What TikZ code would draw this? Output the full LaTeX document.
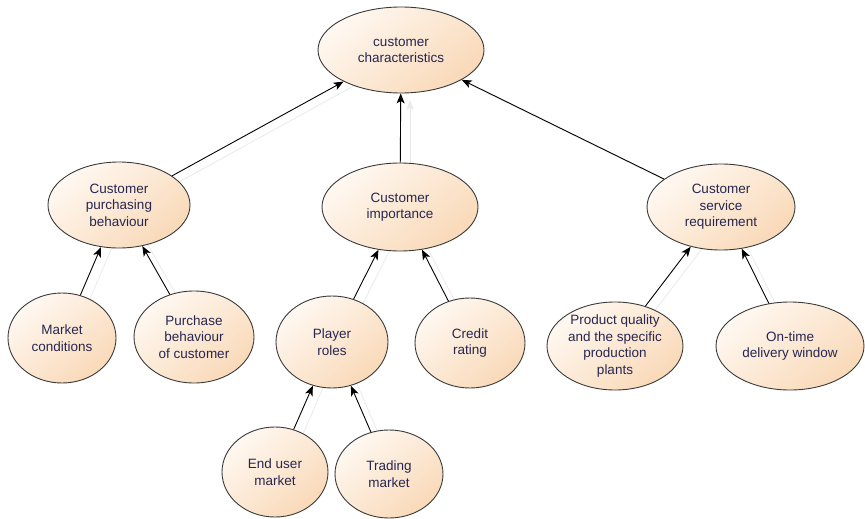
\documentclass[tikz,border=0pt]{standalone}
\usepackage{fontspec}
\setmainfont{Liberation Sans}
\usetikzlibrary{shapes.geometric,arrows.meta}
\definecolor{peach}{HTML}{F9D9B8}
\definecolor{peachlight}{HTML}{FFF8F1}
\definecolor{txt}{HTML}{262650}
\definecolor{edgec}{HTML}{3A3A3A}
\definecolor{shadowline}{HTML}{EBEBEB}
\tikzset{
  bubble/.style={ellipse, draw=edgec, line width=0.9pt, inner sep=0pt,
    top color=peachlight, bottom color=peach, shading angle=40,
    label={[txt,align=center,font=\fontsize{13.5}{16.5}\selectfont]center:#1}},
  conn/.style={line width=0.9pt, black, -{Stealth[length=10pt,width=8pt,inset=2.5pt]}},
  shadowconn/.style={line width=0.9pt, shadowline, -{Stealth[length=10pt,width=8pt,inset=2.5pt]},
    transform canvas={shift={(9pt,-5pt)}}},
}
\begin{document}
\begin{tikzpicture}[x=1pt,y=-1pt]
\useasboundingbox (0,0) rectangle (865,519);
% shadows of connectors
\draw[shadowconn] (401,207) -- (401,95);
\draw[shadowconn] (119,205) -- (401,50);
\draw[shadowconn] (721,207) -- (401,50);
\draw[shadowconn] (62,338) -- (119,205);
\draw[shadowconn] (194,337) -- (119,205);
\draw[shadowconn] (332,342) -- (400,207);
\draw[shadowconn] (470,343) -- (400,207);
\draw[shadowconn] (615,346) -- (721,207);
\draw[shadowconn] (790,346) -- (721,207);
\draw[shadowconn] (275,472) -- (332,342);
\draw[shadowconn] (389,474) -- (332,342);
% nodes
\node[bubble={customer\\characteristics}, minimum width=166, minimum height=86] (top) at (401,50) {};
\node[bubble={Customer\\purchasing\\behaviour}, minimum width=142, minimum height=86] (cpb) at (119,205) {};
\node[bubble={Customer\\importance}, minimum width=156, minimum height=88] (ci) at (400,207) {};
\node[bubble={Customer\\service\\requirement}, minimum width=148, minimum height=86] (csr) at (721,207) {};
\node[bubble={Market\\conditions}, minimum width=108, minimum height=90] (mc) at (62,338) {};
\node[bubble={Purchase\\behaviour\\of customer}, minimum width=120, minimum height=92] (pbc) at (194,337) {};
\node[bubble={Player\\roles}, minimum width=112, minimum height=92] (pr) at (332,342) {};
\node[bubble={Credit\\rating}, minimum width=110, minimum height=90] (cr) at (470,343) {};
\node[bubble={Product quality\\and the specific\\production\\plants}, minimum width=136, minimum height=88] (pq) at (615,346) {};
\node[bubble={On-time\\delivery window}, minimum width=148, minimum height=88] (ot) at (790,346) {};
\node[bubble={End user\\market}, minimum width=106, minimum height=90] (eu) at (275,472) {};
\node[bubble={Trading\\market}, minimum width=108, minimum height=88] (tm) at (389,474) {};
% connectors
\draw[conn] (cpb) -- (top);
\draw[conn] (ci) -- (top);
\draw[conn] (csr) -- (top);
\draw[conn] (mc) -- (cpb);
\draw[conn] (pbc) -- (cpb);
\draw[conn] (pr) -- (ci);
\draw[conn] (cr) -- (ci);
\draw[conn] (pq) -- (csr);
\draw[conn] (ot) -- (csr);
\draw[conn] (eu) -- (pr);
\draw[conn] (tm) -- (pr);
\end{tikzpicture}
\end{document}
